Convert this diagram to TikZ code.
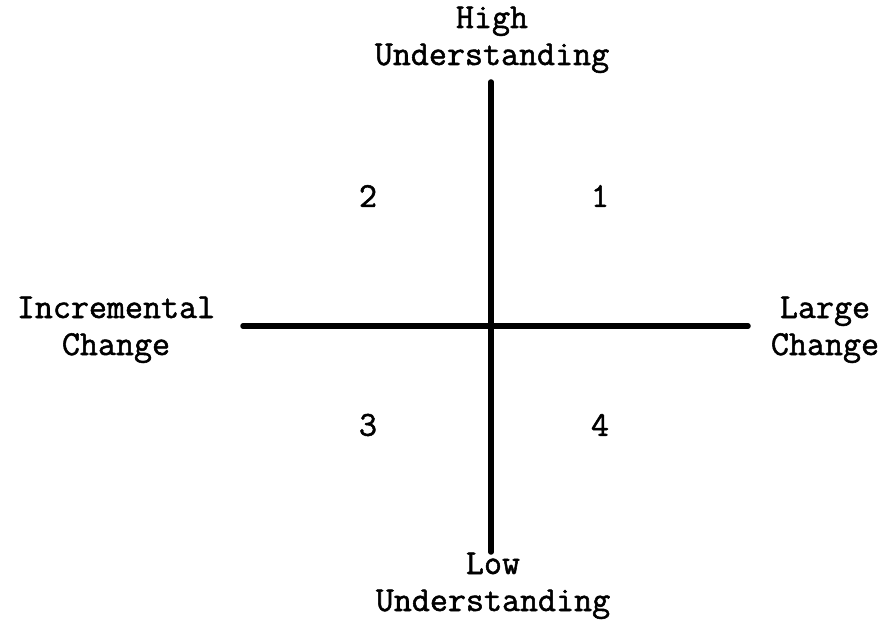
\documentclass[tikz,border=0pt]{standalone}
\usepackage{fontspec}
\setmonofont[FakeBold=1.5,AutoFakeBold=1.5]{Latin Modern Mono}
\begin{document}
\begin{tikzpicture}[x=1pt,y=-1pt,
  axis/.style={line width=5.5pt,line cap=round},
  lbl/.style={font=\fontsize{35}{37}\ttfamily\bfseries,align=center,anchor=base,inner sep=0pt},
  num/.style={font=\fontsize{35}{37}\ttfamily\bfseries,inner sep=0pt}]
\useasboundingbox (0,0) rectangle (886,620);
\coordinate (top) at (491,82);
\coordinate (bot) at (491,552);
\coordinate (left) at (243,326);
\coordinate (right) at (748,326);
\draw[axis] (top) -- (bot);
\draw[axis] (left) -- (right);
\node[lbl] (high) at (492,65) {High\\Understanding};
\node[lbl] (low) at (493,611) {Low\\Understanding};
\node[lbl] (inc) at (116,355) {Incremental\\Change};
\node[lbl] (large) at (825,355) {Large\\Change};
\node[num] (q1) at (600,196) {1};
\node[num] (q2) at (368,196) {2};
\node[num] (q3) at (368,425) {3};
\node[num] (q4) at (600,425) {4};
\end{tikzpicture}
\end{document}
